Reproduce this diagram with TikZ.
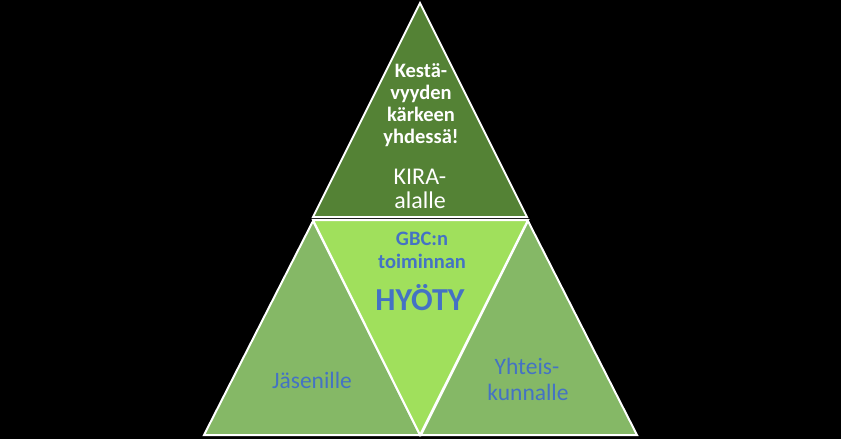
\documentclass[tikz,border=0pt]{standalone}
\usepackage{fontspec}
\setmainfont{Carlito}
\definecolor{topg}{HTML}{548235}
\definecolor{midg}{HTML}{A0E05C}
\definecolor{sideg}{HTML}{85B866}
\definecolor{txtblue}{HTML}{4472C4}
\begin{document}
\begin{tikzpicture}[x=1pt,y=-1pt,
  tri/.style={draw=white,line width=2pt,line join=miter},
  lbl/.style={anchor=base,inner sep=0pt},
  wb/.style={lbl,text=white,font=\fontsize{20.5}{22}\selectfont\bfseries},
  wr/.style={lbl,text=white,font=\fontsize{24}{26}\selectfont},
  bb/.style={lbl,text=txtblue,font=\fontsize{20.5}{23}\selectfont\bfseries},
  br/.style={lbl,text=txtblue,font=\fontsize{23.5}{26}\selectfont}]
\fill[black] (0,0) rectangle (841,439);
\useasboundingbox (0,0) rectangle (841,439);
\filldraw[tri,fill=topg] (420,3) -- (527,217) -- (313,217) -- cycle;
\filldraw[tri,fill=sideg] (313,221) -- (420,435) -- (204,435) -- cycle;
\filldraw[tri,fill=sideg] (528,221) -- (637,435) -- (421,435) -- cycle;
\filldraw[tri,fill=midg] (313,220) -- (528,220) -- (420,435) -- cycle;
\node[wb] (k1) at (421,77) {Kestä-};
\node[wb] (k2) at (421,99) {vyyden};
\node[wb] (k3) at (421,121) {kärkeen};
\node[wb] (k4) at (421,143) {yhdessä!};
\node[wr] (kira1) at (420,184) {KIRA-};
\node[wr] (kira2) at (420,208) {alalle};
\node[bb] (gbc1) at (422,245) {GBC:n};
\node[bb] (gbc2) at (422,268) {toiminnan};
\node[lbl,text=txtblue,font=\fontsize{32}{36}\selectfont\bfseries] (hyoty) at (420,310) {HYÖTY};
\node[br] (jas) at (312,388) {Jäsenille};
\node[br] (yht1) at (527,374) {Yhteis-};
\node[br] (yht2) at (528,400) {kunnalle};
\end{tikzpicture}
\end{document}
